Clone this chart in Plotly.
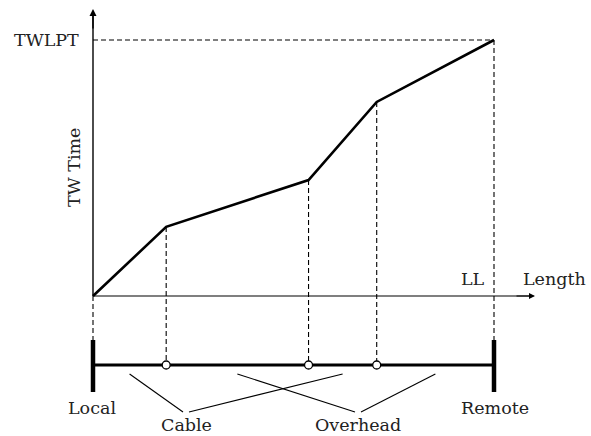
import plotly.graph_objects as go

# ---- data ----
junction_length = [0.0, 7.3, 21.5, 28.3, 40.0]      # km along the line
tw_time = [0.0, 27.0, 45.3, 75.8, 100.0]             # % of TWLPT
segment_types = ["Cable", "Overhead", "Cable", "Overhead"]
end_labels = ["Local", "Remote"]
x_label = "Length"
y_label = "TW Time"
ll_label = "LL"
twlpt_label = "TWLPT"

# ---- geometry (pixel -> data helpers) ----
W, H = 591, 436
X0PX, Y0PX = 93, 296
PX_PER_X = 401 / junction_length[-1]
PX_PER_Y = 256 / tw_time[-1]


def dx(px):
    return (px - X0PX) / PX_PER_X


def dy(py):
    return (Y0PX - py) / PX_PER_Y


FONT = dict(family="DejaVu Serif", size=17.5, color="#222")
fig = go.Figure()


def line(xs, ys, width=1.2, dash=None, color="black"):
    fig.add_trace(go.Scatter(x=xs, y=ys, mode="lines", hoverinfo="skip",
                             line=dict(color=color, width=width, dash=dash)))


DASH = "5px,3px"
L_end = junction_length[-1]
T_end = tw_time[-1]

# TWLPT horizontal dashed
line([0, L_end], [T_end, T_end], width=1.1, dash=DASH)

bar_y = dy(365)
bar_top = dy(340)
bar_bot = dy(392)

# vertical dashed drops
for i, (L, T) in enumerate(zip(junction_length, tw_time)):
    if i == 0:
        line([L, L], [0, bar_top], width=1.1, dash=DASH)
    elif i == len(junction_length) - 1:
        line([L, L], [T, bar_top], width=1.1, dash=DASH)
    else:
        line([L, L], [T, bar_y], width=1.1, dash=DASH)

# axes lines
line([0, 0], [0, dy(14)], width=1.4)
line([0, dx(530)], [0, 0], width=1.2)

# TW time curve
line(junction_length, tw_time, width=2.6)

# line diagram
line([0, L_end], [bar_y, bar_y], width=3)
line([0, 0], [bar_top, bar_bot], width=4.5)
line([L_end, L_end], [bar_top, bar_bot], width=4.5)

fig.add_trace(go.Scatter(x=junction_length[1:-1], y=[bar_y] * 3, mode="markers",
                         hoverinfo="skip",
                         marker=dict(symbol="circle", size=8, color="white",
                                     line=dict(color="black", width=1.3))))

# leader lines for segment labels
label_px = {"Cable": 186, "Overhead": 358}
label_seen = {}
for i, seg in enumerate(segment_types):
    mid = (junction_length[i] + junction_length[i + 1]) / 2
    side = label_seen.get(seg, 0)
    label_seen[seg] = side + 1
    tip_px = label_px[seg] + (-3 if side == 0 else 3)
    line([mid, dx(tip_px)], [dy(374), dy(412)], width=1.1)

for seg, px in label_px.items():
    fig.add_annotation(x=dx(px), y=dy(425), text=seg, showarrow=False,
                       font=FONT, xanchor="center", yanchor="middle")

# arrows
fig.add_annotation(x=0, y=dy(9), ax=0, ay=dy(30), xref="x", yref="y",
                   axref="x", ayref="y", showarrow=True, arrowhead=2,
                   arrowsize=1, arrowwidth=1.4, arrowcolor="black", text="")
fig.add_annotation(x=dx(535), y=0, ax=dx(515), ay=0, xref="x", yref="y",
                   axref="x", ayref="y", showarrow=True, arrowhead=2,
                   arrowsize=1, arrowwidth=1.2, arrowcolor="black", text="")

# texts
fig.add_annotation(x=dx(81), y=T_end, text=twlpt_label, showarrow=False,
                   font=FONT, xanchor="right", yanchor="middle")
fig.add_annotation(x=dx(74), y=dy(168), text=y_label, showarrow=False,
                   font=FONT, textangle=-90, xanchor="center", yanchor="middle")
fig.add_annotation(x=dx(473), y=dy(279), text=ll_label, showarrow=False,
                   font=FONT, xanchor="center", yanchor="middle")
fig.add_annotation(x=dx(521), y=dy(279), text=x_label, showarrow=False,
                   font=FONT, xanchor="left", yanchor="middle")
fig.add_annotation(x=dx(92), y=dy(408), text=end_labels[0], showarrow=False,
                   font=FONT, xanchor="center", yanchor="middle")
fig.add_annotation(x=dx(495), y=dy(408), text=end_labels[1], showarrow=False,
                   font=FONT, xanchor="center", yanchor="middle")

fig.update_layout(
    width=W, height=H, margin=dict(l=0, r=0, t=0, b=0),
    paper_bgcolor="white", plot_bgcolor="white", showlegend=False,
    xaxis=dict(range=[dx(0), dx(W)], visible=False, fixedrange=True),
    yaxis=dict(range=[dy(H), dy(0)], visible=False, fixedrange=True),
)

fig.write_html("out.html", config={"displayModeBar": False},
               post_script="document.body.style.margin='0';document.body.style.overflow='hidden';")
